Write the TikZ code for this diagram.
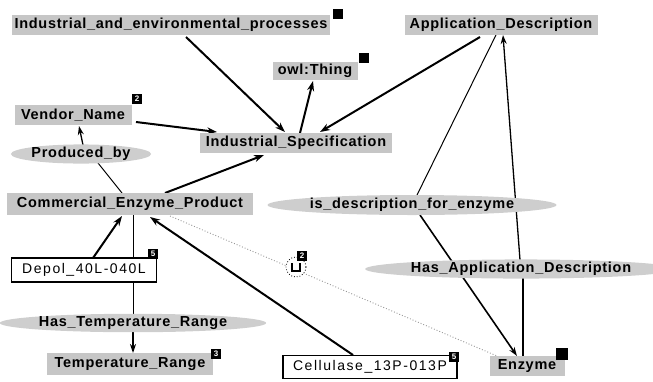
\documentclass[tikz,border=0pt]{standalone}
\usepackage{fontspec}
\setmainfont{Liberation Sans}
\newfontfamily\clsfont[LetterSpace=5]{Liberation Sans}
\newfontfamily\insfont[LetterSpace=11]{Liberation Sans}
\usetikzlibrary{shapes.geometric,arrows.meta,calc,backgrounds}
\definecolor{clsgray}{RGB}{198,198,198}
\definecolor{propgray}{RGB}{206,206,206}
\definecolor{linkgray}{RGB}{150,150,150}

\begin{document}
\begin{tikzpicture}[x=1pt,y=-1pt,
  cls/.style={fill=clsgray, inner sep=0pt, minimum height=20pt,
    font=\clsfont\bfseries\fontsize{14.5}{16}\selectfont},
  prop/.style={ellipse, fill=propgray, inner sep=0pt, minimum height=18pt,
    font=\clsfont\bfseries\fontsize{14.5}{16}\selectfont},
  inst/.style={draw, line width=1.1pt, fill=white, inner sep=0pt, minimum height=23pt,
    font=\insfont\fontsize{14}{16}\selectfont},
  badge/.style={fill=black, inner sep=0pt, minimum size=10pt, text=white,
    font=\bfseries\fontsize{8}{8}\selectfont},
  isa/.style={line width=2pt, -{Stealth[length=10pt,width=7pt]}},
  rel/.style={line width=1pt},
  relarrow/.style={line width=1.3pt, -{Stealth[length=9pt,width=6pt]}},
  hidden/.style={linkgray, dotted, line width=0.9pt}
]
\useasboundingbox (0,0) rectangle (653,381);

% classes
\node[cls, minimum width=318pt] (env) at (171,25) {Industrial\_and\_environmental\_processes};
\node[cls, minimum width=85pt, minimum height=18pt] (thing) at (315,71) {owl:Thing};
\node[cls, minimum width=193pt] (app) at (501,25) {Application\_Description};
\node[cls, minimum width=117pt] (vendor) at (73,115) {Vendor\_Name};
\node[cls, minimum width=192pt] (spec) at (296,143) {Industrial\_Specification};
\node[cls, minimum width=246pt, minimum height=22pt] (commercial) at (130,204) {Commercial\_Enzyme\_Product};
\node[cls, minimum width=166pt, minimum height=22pt] (temp) at (130,364) {Temperature\_Range};
\node[cls, minimum width=75pt] (enzyme) at (527,366) {Enzyme};

% properties
\node[prop, minimum width=132pt] (prodby) at (81,154) {Produced\_by};
\node[prop, minimum width=245pt, minimum height=20pt] (isdesc) at (412,205) {is\_description\_for\_enzyme};
\node[prop, minimum width=258pt] (hasapp) at (521,269) {Has\_Application\_Description};
\node[prop, minimum width=240pt] (hastemp) at (133,323) {Has\_Temperature\_Range};

% instances
\node[inst, minimum width=145pt, minimum height=24pt] (depol) at (84,270) {Depol\_40L-040L};
\node[inst, minimum width=174pt] (cellulase) at (370,367) {Cellulase\_13P-013P};

% anonymous instance marker
\node[circle, draw, dotted, line width=0.8pt, fill=white, minimum size=20pt, inner sep=0pt] (icon) at (296,267) {};
\draw[line width=1.6pt] ($(icon)+(-4,-4)$) -- ($(icon)+(-4,4)$) -- ($(icon)+(4,4)$) -- ($(icon)+(4,-4)$);

% count badges
\node[badge] (benv) at (338,14) {};
\node[badge] (bthing) at (364,58) {};
\node[badge] (bvendor) at (137,99) {2};
\node[badge] (bdepol) at (153,254) {5};
\node[badge] (bicon) at (302,256) {2};
\node[badge] (btemp) at (216,354) {3};
\node[badge] (bcell) at (454,357) {5};
\node[badge, minimum size=12pt] (benz) at (562,354) {};

% connectors, kept behind the nodes
\begin{scope}[on background layer]
\draw[isa] ($(env)+(15,12)$) -- ($(spec)+(-11,-11)$);
\draw[isa] ($(spec)+(4,-10)$) -- ($(thing)+(-2,10)$);
\draw[isa] ($(app)+(-21,12)$) -- ($(spec)+(24,-11)$);
\draw[isa] ($(vendor)+(63,7)$) -- ($(spec)+(-79,-11)$);
\draw[isa] ($(commercial)+(35,-11)$) -- ($(spec)+(-32,12)$);
\draw[isa] ($(depol)+(9,-12)$) -- ($(commercial)+(-8,12)$);
\draw[isa] ($(cellulase)+(-17,-12)$) -- ($(commercial)+(20,13)$);

\draw[rel] ($(commercial)+(-8,-11)$) -- ($(prodby)+(17,9)$);
\draw[relarrow] ($(prodby)+(2,-9)$) -- ($(vendor)+(6,11)$);

\draw[rel] ($(commercial)+(3,11)$) -- ($(hastemp)+(0,-9)$);
\draw[relarrow] ($(hastemp)+(0,9)$) -- ($(temp)+(3,-11)$);

\draw[rel] ($(app)+(-5,10)$) -- ($(isdesc)+(5,-10)$);
\draw[relarrow, line width=1.6pt] ($(isdesc)+(8,10)$) -- ($(enzyme)+(-10,-10)$);

\draw[rel, line width=1.2pt] ($(enzyme)+(-4,-10)$) -- ($(hasapp)+(2,9)$);
\draw[relarrow] ($(hasapp)+(-1,-9)$) -- ($(app)+(2,10)$);

\draw[hidden] ($(commercial)+(40,12)$) -- ($(enzyme)+(-30,-10)$);
\end{scope}
\end{tikzpicture}
\end{document}
